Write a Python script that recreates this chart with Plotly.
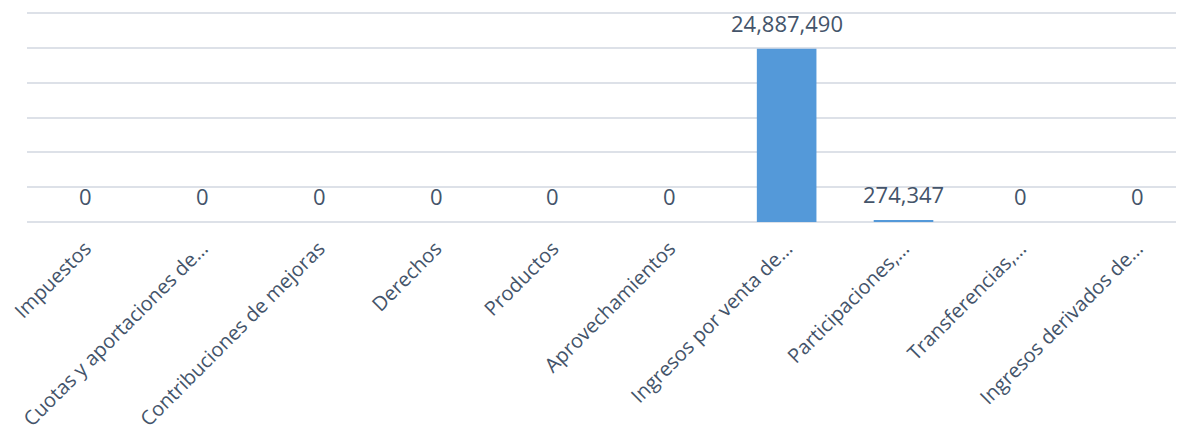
import plotly.graph_objects as go

categories = [
    "Impuestos",
    "Cuotas y aportaciones de…",
    "Contribuciones de mejoras",
    "Derechos",
    "Productos",
    "Aprovechamientos",
    "Ingresos por venta de…",
    "Participaciones,…",
    "Transferencias,…",
    "Ingresos derivados de…",
]
values = [0, 0, 0, 0, 0, 0, 24887490, 274347, 0, 0]
labels = [f"{v:,}" for v in values]

text_color = "#44546a"
grid_color = "#dde1e8"

fig = go.Figure(
    go.Bar(
        x=categories,
        y=values,
        marker=dict(color="#5499d9", line=dict(width=0)),
        width=0.51,
        cliponaxis=False,
    )
)

for c, v, t in zip(categories, values, labels):
    fig.add_annotation(
        x=c, y=v, text=t, showarrow=False,
        xanchor="center", yanchor="bottom", yshift=9,
        font=dict(family="Open Sans", size=22, color=text_color),
    )

fig.update_layout(
    width=1176,
    height=430,
    margin=dict(l=19, r=0, t=4, b=216, autoexpand=False),
    paper_bgcolor="white",
    plot_bgcolor="white",
    showlegend=False,
    xaxis=dict(
        range=[-0.5, 9.4],
        tickangle=-45,
        tickfont=dict(family="Open Sans", size=20, color=text_color),
        ticklabelstandoff=10,
        showgrid=False,
        showline=False,
        ticks="",
        automargin=False,
    ),
    yaxis=dict(
        range=[0, 30150000],
        dtick=5000000,
        showticklabels=False,
        showgrid=True,
        gridcolor=grid_color,
        gridwidth=2,
        zeroline=True,
        zerolinecolor=grid_color,
        zerolinewidth=2,
        showline=False,
        ticks="",
        automargin=False,
    ),
)

fig.write_html("out.html")
